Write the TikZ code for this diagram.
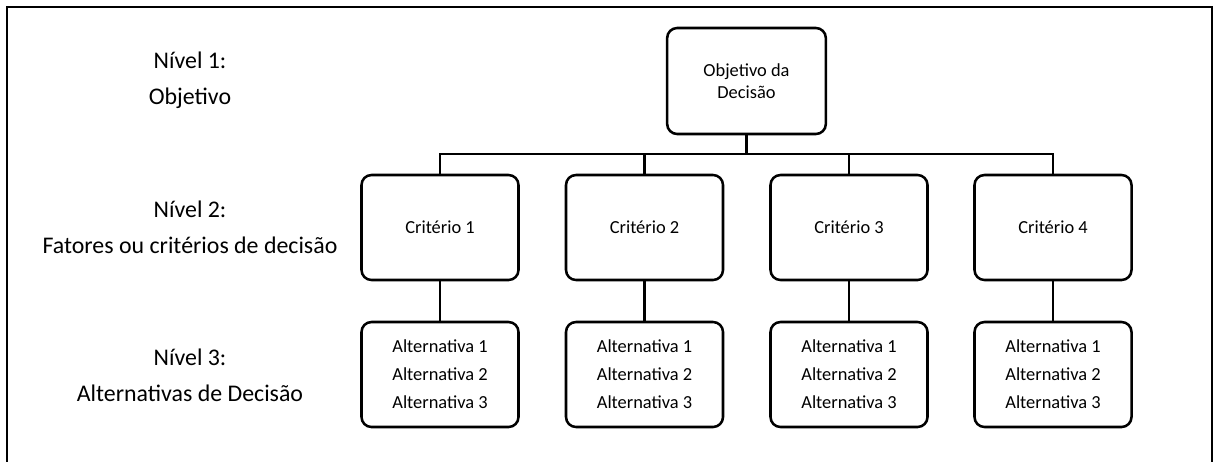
\documentclass[tikz,border=0pt]{standalone}
\usepackage{fontspec}
\setmainfont{Carlito}
\begin{document}
\begin{tikzpicture}[x=0.75pt,y=-0.75pt,
  box/.style={draw, line width=1.9pt, rounded corners=7.5pt, minimum width=117.75pt, minimum height=78.75pt, align=center, inner sep=0pt, font=\fontsize{13.8pt}{16.5pt}\selectfont},
  altbox/.style={box, font=\fontsize{13.8pt}{21pt}\selectfont},
  lvl/.style={align=center, inner sep=0pt, font=\fontsize{17.9pt}{27pt}\selectfont},
  link/.style={line width=1.9pt},
  frame/.style={line width=2pt}]
\useasboundingbox (0,0) rectangle (1216,461);
\draw[frame] (7,470) -- (7,7) -- (1212,7) -- (1212,470);
% level labels
\node[lvl] (l1) at (190,80) {Nível 1:\\Objetivo};
\node[lvl] (l2) at (190,227.5) {Nível 2:\\Fatores ou critérios de decisão};
\node[lvl] (l3) at (190,375) {Nível 3:\\Alternativas de Decisão};
% boxes
\node[box, minimum width=119pt, minimum height=79.5pt] (top) at (746.5,81) {Objetivo da\\Decisão};
\node[box] (c1) at (440,227.5) {Critério 1};
\node[box] (c2) at (644.5,227.5) {Critério 2};
\node[box] (c3) at (849,227.5) {Critério 3};
\node[box] (c4) at (1053,227.5) {Critério 4};
\node[altbox] (a1) at (440,374.5) {Alternativa 1\\Alternativa 2\\Alternativa 3};
\node[altbox] (a2) at (644.5,374.5) {Alternativa 1\\Alternativa 2\\Alternativa 3};
\node[altbox] (a3) at (849,374.5) {Alternativa 1\\Alternativa 2\\Alternativa 3};
\node[altbox] (a4) at (1053,374.5) {Alternativa 1\\Alternativa 2\\Alternativa 3};
% connectors
\coordinate (j) at (746.5,154);
\draw[link] (top.south) -- (j);
\draw[link] (c1.north) -- (c1.north |- j) -- (c4.north |- j) -- (c4.north);
\draw[link] (c2.north) -- (c2.north |- j);
\draw[link] (c3.north) -- (c3.north |- j);
\draw[link] (c1.south) -- (a1.north);
\draw[link] (c2.south) -- (a2.north);
\draw[link] (c3.south) -- (a3.north);
\draw[link] (c4.south) -- (a4.north);
\end{tikzpicture}
\end{document}
